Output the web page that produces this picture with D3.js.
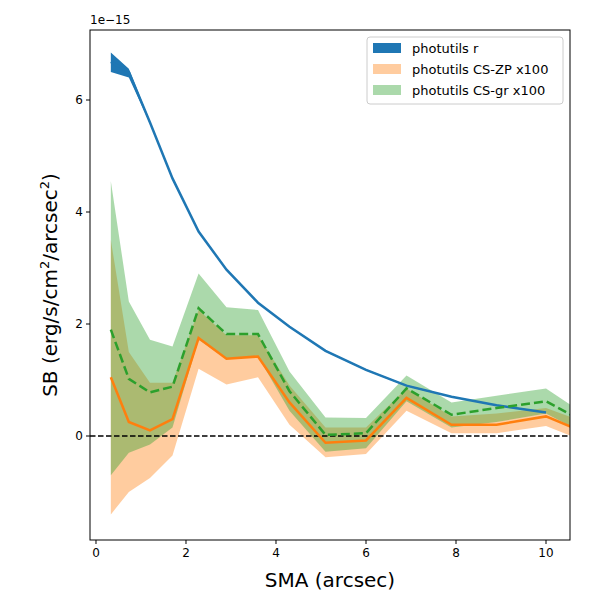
<!DOCTYPE html><html><head><script src="https://cdn.jsdelivr.net/npm/d3@7"></script>
<style>body{margin:0;background:#fff}text{font-family:"DejaVu Sans",sans-serif}</style></head><body><svg id="c" width="600" height="600"></svg><script>
const sma=[0.33,0.73,1.2,1.7,2.28,2.9,3.6,4.3,5.1,6.0,6.9,7.9,8.9,10.0,11.2];
const rVal=[6.68,6.5,5.6,4.6,3.65,2.97,2.38,1.95,1.52,1.18,0.9,0.7,0.55,0.42];
const rUp=[6.85,6.56,5.62,4.61,3.66,2.98,2.39,1.96,1.53,1.19,0.91,0.71,0.56,0.43];
const rLo=[6.5,6.4,5.58,4.59,3.64,2.96,2.37,1.94,1.51,1.17,0.89,0.69,0.54,0.41];
const zpVal=[1.05,0.25,0.1,0.3,1.75,1.38,1.42,0.6,-0.12,-0.08,0.68,0.2,0.2,0.35,-0.05];
const zpUp=[3.5,1.5,0.95,0.95,2.25,1.8,1.8,0.9,0.15,0.15,0.85,0.35,0.4,0.5,0.15];
const zpLo=[-1.4,-1.0,-0.75,-0.35,1.2,0.92,1.05,0.2,-0.38,-0.32,0.45,0.05,0.05,0.18,-0.2];
const grVal=[1.9,1.02,0.78,0.88,2.28,1.82,1.82,0.8,0.02,0.05,0.85,0.38,0.5,0.62,0.1];
const grUp=[4.55,2.4,1.72,1.6,2.9,2.3,2.25,1.15,0.33,0.32,1.08,0.6,0.72,0.85,0.2];
const grLo=[-0.7,-0.3,-0.15,0.15,1.72,1.38,1.42,0.45,-0.28,-0.22,0.62,0.15,0.25,0.4,-0.1];
const xTicks=[0,2,4,6,8,10], yTicks=[0,2,4,6];
const svg=d3.select("#c");
const L=90,R=570,T=30,B=540;
const x=d3.scaleLinear().domain([-0.133,10.533]).range([L,R]);
const y=d3.scaleLinear().domain([-1.857,7.25]).range([B,T]);
svg.append("clipPath").attr("id","cl").append("rect").attr("x",L).attr("y",T).attr("width",R-L).attr("height",B-T);
const g=svg.append("g").attr("clip-path","url(#cl)");
const area=(lo,hi)=>d3.area().x((d,i)=>x(sma[i])).y0((d,i)=>y(lo[i])).y1((d,i)=>y(hi[i]))(lo);
const line=v=>d3.line().x((d,i)=>x(sma[i])).y(d=>y(d))(v);
g.append("path").attr("d",area(rLo,rUp)).attr("fill","#1f77b4");
g.append("path").attr("d",area(zpLo,zpUp)).attr("fill","#ff7f0e").attr("opacity",0.4);
g.append("path").attr("d",area(grLo,grUp)).attr("fill","#2ca02c").attr("opacity",0.4);
g.append("line").attr("x1",L).attr("x2",R).attr("y1",y(0)).attr("y2",y(0)).attr("stroke","#000").attr("stroke-width",1.5).attr("stroke-dasharray","5.5,2.5");
g.append("path").attr("d",line(rVal)).attr("fill","none").attr("stroke","#1f77b4").attr("stroke-width",2.5);
g.append("path").attr("d",line(zpVal)).attr("fill","none").attr("stroke","#ff7f0e").attr("stroke-width",2.5);
g.append("path").attr("d",line(grVal)).attr("fill","none").attr("stroke","#2ca02c").attr("stroke-width",2.5).attr("stroke-dasharray","9,4");
svg.append("rect").attr("x",L).attr("y",T).attr("width",R-L).attr("height",B-T).attr("fill","none").attr("stroke","#000");
xTicks.forEach(t=>{svg.append("line").attr("x1",x(t)).attr("x2",x(t)).attr("y1",B).attr("y2",B+4).attr("stroke","#000");
svg.append("text").attr("x",x(t)).attr("y",B+17).attr("text-anchor","middle").attr("font-size",12).text(t);});
yTicks.forEach(t=>{svg.append("line").attr("x1",L-4).attr("x2",L).attr("y1",y(t)).attr("y2",y(t)).attr("stroke","#000");
svg.append("text").attr("x",L-7).attr("y",y(t)+4).attr("text-anchor","end").attr("font-size",12).text(t);});
svg.append("text").attr("x",L).attr("y",T-6).attr("font-size",12).text("1e−15");
svg.append("text").attr("x",(L+R)/2).attr("y",587).attr("text-anchor","middle").attr("font-size",20).text("SMA (arcsec)");
const yl=svg.append("text").attr("transform",`translate(57,${(T+B)/2}) rotate(-90)`).attr("text-anchor","middle").attr("font-size",20);
yl.append("tspan").text("SB (erg/s/cm");yl.append("tspan").attr("font-size",13).attr("dy",-8).text("2");
yl.append("tspan").attr("dy",8).text("/arcsec");yl.append("tspan").attr("font-size",13).attr("dy",-8).text("2");yl.append("tspan").attr("dy",8).text(")");
const leg=svg.append("g").attr("transform","translate(367,37)");
leg.append("rect").attr("width",196).attr("height",67).attr("rx",3).attr("fill","#fff").attr("stroke","#ccc");
[["photutils r","#1f77b4",1],["photutils CS-ZP x100","#ff7f0e",0.4],["photutils CS-gr x100","#2ca02c",0.4]].forEach((d,i)=>{
leg.append("rect").attr("x",6).attr("y",6+i*21).attr("width",28).attr("height",10).attr("fill",d[1]).attr("opacity",d[2]);
leg.append("text").attr("x",45).attr("y",16+i*21).attr("font-size",13).text(d[0]);});
</script></body></html>
